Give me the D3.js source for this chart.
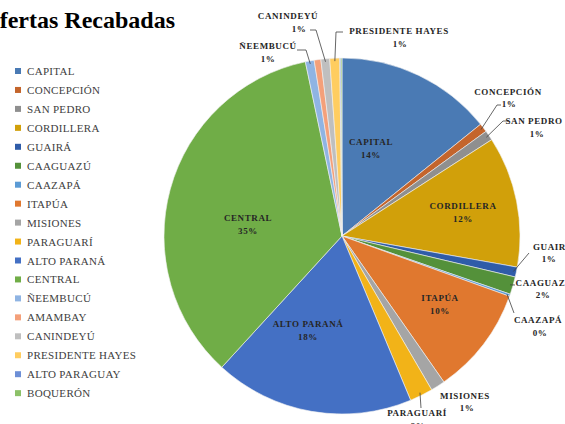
<!DOCTYPE html>
<html>
<head>
<meta charset="utf-8">
<script src="https://cdn.jsdelivr.net/npm/d3@7"></script>
<style>
  body { margin: 0; background: #fff; }
  text { font-family: "Liberation Serif", "Times New Roman", serif; }
</style>
</head>
<body>
<div id="main"></div>
<script>
var width = 565;
var height = 424;

// departamentos, in slice order (clockwise from 12 o'clock)
var departamentos = ['CAPITAL', 'CONCEPCIÓN', 'SAN PEDRO', 'CORDILLERA', 'GUAIRÁ', 'CAAGUAZÚ',
    'CAAZAPÁ', 'ITAPÚA', 'MISIONES', 'PARAGUARÍ', 'ALTO PARANÁ', 'CENTRAL', 'ÑEEMBUCÚ',
    'AMAMBAY', 'CANINDEYÚ', 'PRESIDENTE HAYES', 'ALTO PARAGUAY', 'BOQUERÓN'];

// share of offers (%)
var porcentajes = [14.2, 0.8, 0.9, 11.9, 0.9, 1.6, 0.2, 9.8, 1.3, 2.1, 18.1, 34.9, 0.8,
    0.6, 0.8, 0.9, 0.1, 0.1];

var colores = ['#4a7ab4', '#c4652c', '#8f8f8f', '#d1a00a', '#2f5ca8', '#54913a',
    '#5b9bd5', '#e0782f', '#a5a5a5', '#f2b318', '#4470c4', '#70ad47', '#8fb4e3',
    '#f4a07a', '#bfbfbf', '#ffcd60', '#6d8fd6', '#8cc168'];

var center = {x: 342, y: 236};
var radius = 178;

// label placement: inside labels at (x, y); outside ones get a leader elbow
var labelPos = {
    'CAPITAL': {x: 371, y: 145},
    'CORDILLERA': {x: 463, y: 209},
    'ITAPÚA': {x: 440, y: 301},
    'ALTO PARANÁ': {x: 308, y: 327},
    'CENTRAL': {x: 248, y: 221},
    'CONCEPCIÓN': {x: 508, y: 95, pct: {x: 509, y: 107}, elbow: [[501, 105], [497, 105]]},
    'SAN PEDRO': {x: 534, y: 124, pct: {x: 537, y: 137}, elbow: [[508, 121], [503, 121]]},
    'GUAIRÁ': {x: 553, y: 250, pct: {x: 549, y: 262}, elbow: [[529, 253]]},
    'CAAGUAZÚ': {x: 544, y: 286, pct: {x: 543, y: 298}, elbow: [[515, 285]]},
    'CAAZAPÁ': {x: 538, y: 323, pct: {x: 540, y: 336}, elbow: [[514, 313]]},
    'MISIONES': {x: 465, y: 399, pct: {x: 467, y: 411}},
    'PARAGUARÍ': {x: 417, y: 416, pct: {x: 418, y: 429}, elbow: [[421, 408]]},
    'ÑEEMBUCÚ': {x: 268, y: 49, pct: {x: 268, y: 62}, elbow: [[297, 50], [306, 50]]},
    'CANINDEYÚ': {x: 288, y: 19, pct: {x: 299, y: 32}, elbow: [[310, 30], [316, 30]]},
    'PRESIDENTE HAYES': {x: 399, y: 34, pct: {x: 400, y: 47}, elbow: [[343, 32], [336, 32]]}
};

var svg = d3.select('#main').append('svg')
    .attr('width', width)
    .attr('height', height);

var data = departamentos.map(function(d, i) {
    return {name: d, value: porcentajes[i], color: colores[i]};
});

var pie = d3.pie().sort(null).value(function(d) { return d.value; });
var arc = d3.arc().innerRadius(0).outerRadius(radius);
var edge = d3.arc().innerRadius(radius - 3).outerRadius(radius - 3);

var arcs = pie(data);

var chart = svg.append('g')
    .attr('transform', `translate(${center.x}, ${center.y})`);

chart.selectAll('.slice')
    .data(arcs)
    .enter()
    .append('path')
    .attr('class', 'slice')
    .attr('d', arc)
    .attr('fill', function(d) { return d.data.color; })
    .attr('stroke', '#f2f2f2')
    .attr('stroke-width', 0.6);

// leader lines
arcs.forEach(function(a) {
    var lp = labelPos[a.data.name];
    if (!lp || !lp.elbow) return;
    var c = edge.centroid(a);
    var pts = lp.elbow.map(function(p) { return [p[0], p[1]]; });
    pts.push([c[0] + center.x, c[1] + center.y]);
    svg.append('path')
        .attr('d', d3.line()(pts))
        .attr('fill', 'none')
        .attr('stroke', '#404040')
        .attr('stroke-width', 0.8);
});

// data labels
arcs.forEach(function(a) {
    var lp = labelPos[a.data.name];
    if (!lp) return;
    var pct = Math.round(a.data.value) + '%';
    var g = svg.append('g').attr('class', 'data-label');
    g.append('text')
        .attr('x', lp.x)
        .attr('y', lp.y)
        .attr('text-anchor', 'middle')
        .style('font-size', '9px')
        .style('font-weight', 'bold')
        .style('letter-spacing', '0.6px')
        .attr('fill', '#262626')
        .text(a.data.name);
    var p = lp.pct || {x: lp.x, y: lp.y + 13};
    g.append('text')
        .attr('x', p.x)
        .attr('y', p.y)
        .attr('text-anchor', 'middle')
        .style('font-size', '9px')
        .style('font-weight', 'bold')
        .style('letter-spacing', '0.6px')
        .attr('fill', '#262626')
        .text(pct);
});

// title (cut off at the left edge in the original)
svg.append('text')
    .attr('x', -19)
    .attr('y', 28)
    .style('font-size', '24px')
    .style('font-weight', 'bold')
    .attr('fill', '#000')
    .text('Ofertas Recabadas');

// legend
var legend = svg.selectAll('.legend')
    .data(data)
    .enter()
    .append('g')
    .attr('class', 'legend')
    .attr('transform', function(d, i) {
        return `translate(15, ${71 + i * 18.95})`;
    });

legend.append('rect')
    .attr('x', 0)
    .attr('y', -3)
    .attr('width', 6)
    .attr('height', 6)
    .attr('fill', function(d) { return d.color; });

legend.append('text')
    .attr('x', 12)
    .attr('y', 4)
    .style('font-size', '11px')
    .style('letter-spacing', '0.3px')
    .attr('fill', '#404040')
    .text(function(d) { return d.name; });
</script>
</body>
</html>
